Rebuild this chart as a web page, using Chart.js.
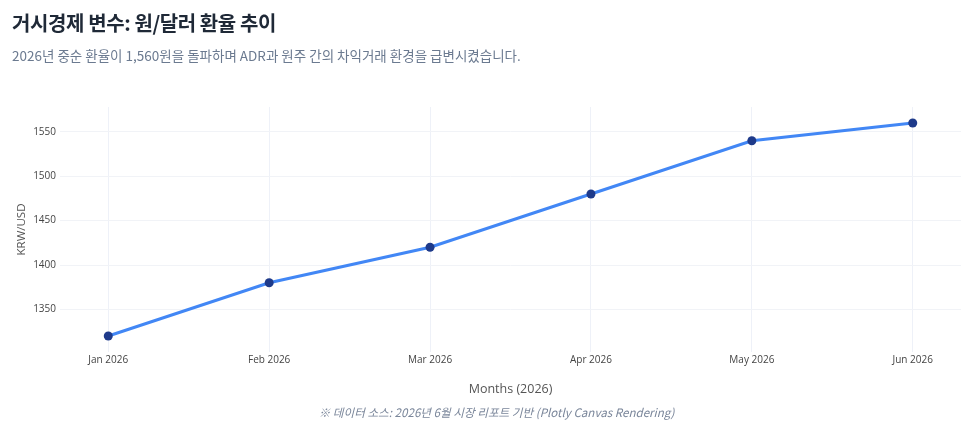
<!DOCTYPE html>
<html><head><meta charset="utf-8">
<script src="https://cdn.jsdelivr.net/npm/chart.js@4.4.1/dist/chart.umd.min.js"></script>
<style>
html,body{margin:0;padding:0;background:#fff;width:975px;height:434px;overflow:hidden;font-family:"Noto Sans CJK KR","Open Sans",sans-serif;}
#wrap{position:absolute;left:0;top:0;width:975px;height:434px;}
#title{position:absolute;left:12px;top:8px;font-size:20px;font-weight:700;color:#1f2937;letter-spacing:-0.4px;white-space:nowrap;}
#sub{position:absolute;left:12px;top:45px;font-size:13.5px;color:#6b7a90;white-space:nowrap;}
#foot{position:absolute;left:0;width:993px;text-align:center;top:404px;font-size:11.6px;font-style:italic;color:#7a869a;white-space:nowrap;}
canvas{position:absolute;left:0;top:0;}
</style></head>
<body>
<div id="wrap">
<canvas id="c" width="975" height="434"></canvas>
<div id="title">거시경제 변수: 원/달러 환율 추이</div>
<div id="sub">2026년 중순 환율이 1,560원을 돌파하며 ADR과 원주 간의 차익거래 환경을 급변시켰습니다.</div>
<div id="foot">※ 데이터 소스: 2026년 6월 시장 리포트 기반 (Plotly Canvas Rendering)</div>
</div>
<script>
const months = ["Jan 2026","Feb 2026","Mar 2026","Apr 2026","May 2026","Jun 2026"];
const krwUsd = [1320, 1380, 1420, 1480, 1540, 1560];
const yTicks = [1350, 1400, 1450, 1500, 1550];

const tickFont = {family:"'Open Sans','Noto Sans',sans-serif", size:10};
new Chart(document.getElementById('c'), {
  type:'line',
  data:{
    datasets:[{
      label:'KRW/USD',
      data: krwUsd.map((v,i)=>({x:i,y:v})),
      borderColor:'#4287f5',
      borderWidth:3,
      pointBackgroundColor:'#1e3a8a',
      pointBorderColor:'#1e3a8a',
      pointRadius:4.5,
      pointBorderWidth:0,
      tension:0
    }]
  },
  options:{
    responsive:false,
    animation:false,
    devicePixelRatio:1,
    layout:{padding:{left:0,right:14,top:107,bottom:37}},
    plugins:{legend:{display:false},tooltip:{enabled:false}},
    scales:{
      x:{
        type:'linear', min:-0.3, max:5.3,
        afterBuildTicks: s => { s.ticks = months.map((m,i)=>({value:i})); },
        afterFit: s => { s.height = 45; },
        ticks:{ callback:(v)=>months[v], color:'#444', font:tickFont, padding:2, maxRotation:0, autoSkip:false },
        grid:{ color:'#eef1f8', drawTicks:false, lineWidth:1 },
        border:{ display:false },
        title:{ display:true, text:'Months (2026)', color:'#555', font:{family:"'Open Sans','Noto Sans',sans-serif", size:12.5}, padding:{top:12,bottom:0} }
      },
      y:{
        min:1302, max:1578,
        afterBuildTicks: s => { s.ticks = yTicks.map(v=>({value:v})); },
        afterFit: s => { s.width = 60; },
        ticks:{ callback:(v)=>String(v), color:'#444', font:tickFont, padding:4 },
        grid:{ color:'#f1f3f7', drawTicks:false, lineWidth:1 },
        border:{ display:false },
        title:{ display:true, text:'KRW/USD', color:'#555', font:{family:"'Open Sans','Noto Sans',sans-serif", size:11.5}, padding:{top:15,bottom:4} }
      }
    }
  }
});
</script>
</body></html>
